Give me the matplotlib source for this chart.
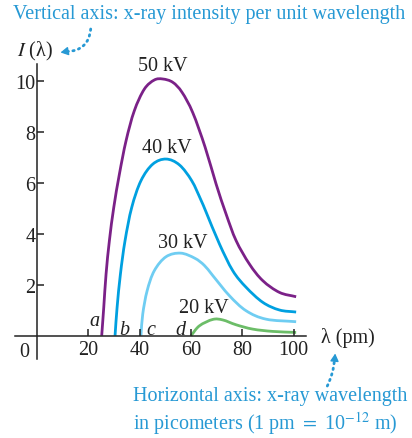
import matplotlib
matplotlib.use("Agg")
import matplotlib.pyplot as plt
from matplotlib.path import Path
from matplotlib.patches import PathPatch

plt.rcParams['font.family'] = ['Liberation Serif', 'DejaVu Serif']
plt.rcParams['mathtext.fontset'] = 'stix'

# ---- data ----
lam_50 = [25.2, 26.0, 26.9, 28.2, 29.9, 32.1, 34.7, 37.9, 41.8, 45.7, 49.0, 52.9, 56.5,
          60.7, 65.5, 69.8, 73.7, 77.6, 82.8, 88.0, 94.5, 101.0]
I_50 = [0.0, 1.11, 2.42, 3.73, 5.03, 6.34, 7.65, 8.82, 9.67, 10.03, 10.07, 9.94, 9.55,
        8.75, 7.4, 5.95, 4.77, 3.73, 2.81, 2.16, 1.70, 1.53]

lam_40 = [30.4, 31.2, 32.5, 34.3, 36.9, 40.5, 45.1, 50.3, 55.5, 60.3, 63.9, 65.9, 71.1,
          76.3, 81.5, 88.0, 94.5, 101.0]
I_40 = [0.0, 1.11, 2.42, 3.73, 5.03, 6.08, 6.73, 6.93, 6.70, 6.08, 5.32, 4.85, 3.6,
        2.55, 1.90, 1.31, 1.01, 0.93]

lam_30 = [40.5, 41.2, 42.9, 45.7, 50.3, 56.0, 61.5, 65.2, 68.5, 75.0, 81.5, 89.3, 101.0]
I_30 = [0.0, 0.85, 1.76, 2.55, 3.10, 3.24, 3.04, 2.76, 2.36, 1.57, 0.98, 0.65, 0.55]

lam_20 = [60.0, 63.3, 68.5, 72.4, 77.6, 84.1, 91.9, 101.0]
I_20 = [0.0, 0.39, 0.64, 0.62, 0.43, 0.26, 0.17, 0.13]

voltages = ["50 kV", "40 kV", "30 kV", "20 kV"]
x_ticks = [20, 40, 60, 80, 100]
y_ticks = [2, 4, 6, 8, 10]
threshold_letters = ["a", "b", "c", "d"]

colors = ["#7b2188", "#00a0e0", "#6fcdf2", "#6cbd68"]
note_color = "#2799d4"
ink = "#222222"
FS = 14.5


def smooth_path(xs, ys):
    """Cubic Bezier path passing through the read points (Catmull-Rom tangents)."""
    n = len(xs)
    verts = [(xs[0], ys[0])]
    codes = [Path.MOVETO]
    for i in range(n - 1):
        i0 = max(i - 1, 0)
        i3 = min(i + 2, n - 1)
        k1 = 6.0 if i0 != i else 3.0
        k2 = 6.0 if i3 != i + 1 else 3.0
        c1 = (xs[i] + (xs[i + 1] - xs[i0]) / k1, ys[i] + (ys[i + 1] - ys[i0]) / k1)
        c2 = (xs[i + 1] - (xs[i3] - xs[i]) / k2, ys[i + 1] - (ys[i3] - ys[i]) / k2)
        verts += [c1, c2, (xs[i + 1], ys[i + 1])]
        codes += [Path.CURVE4] * 3
    return Path(verts, codes)


W, H = 412, 439
fig = plt.figure(figsize=(W / 100, H / 100), dpi=100)
ax = fig.add_axes([15 / W, (H - 359.7) / H, 291.4 / W, 294.5 / H])
ax.set_xlim(-8.6, 105)
ax.set_ylim(-0.9, 10.65)

for s in ['top', 'right']:
    ax.spines[s].set_visible(False)
ax.spines['left'].set_position(('data', 0))
ax.spines['bottom'].set_position(('data', 0))
for s in ['left', 'bottom']:
    ax.spines[s].set_linewidth(1.1)
    ax.spines[s].set_color(ink)

ax.set_xticks(x_ticks)
ax.set_yticks(y_ticks)
ax.tick_params(axis='both', direction='in', length=5, width=1.1, color=ink,
               labelsize=FS, labelcolor=ink)
ax.tick_params(axis='x', pad=3)
ax.tick_params(axis='y', pad=1)

series = [(lam_50, I_50), (lam_40, I_40), (lam_30, I_30), (lam_20, I_20)]
for (lx, ly), c in zip(series, colors):
    ax.add_patch(PathPatch(smooth_path(lx, ly), facecolor='none', edgecolor=c, lw=2.0,
                           capstyle='butt', joinstyle='round'))

label_pos = [(48.9, 10.6), (50.5, 7.4), (56.8, 3.66), (65.2, 1.12)]
for t, (x, y) in zip(voltages, label_pos):
    ax.text(x, y, t, ha='center', va='center', fontsize=FS, color=ink)

letter_pos = [(22.2, 0.58), (34.2, 0.26), (44.2, 0.26), (56.0, 0.26)]
for t, (x, y) in zip(threshold_letters, letter_pos):
    ax.text(x, y, t, ha='center', va='center', fontsize=FS, style='italic', color=ink)

ax.text(-4.9, -0.62, "0", ha='center', va='center', fontsize=FS, color=ink)
ax.text(110.6, -0.05, "λ (pm)", ha='left', va='center', fontsize=FS, color=ink, clip_on=False)
ax.text(-0.9, 11.17, "$I$ (λ)", ha='center', va='center', fontsize=FS, color=ink, clip_on=False)

# annotation texts (figure pixel coords)
fig.text(13 / W, 1 - 14 / H, "Vertical axis: x-ray intensity per unit wavelength",
         ha='left', va='center', fontsize=FS, color=note_color)
fig.text(133 / W, 1 - 396.7 / H, "Horizontal axis: x-ray wavelength",
         ha='left', va='center', fontsize=FS, color=note_color)
fig.text(133 / W, 1 - 423.3 / H, "in picometers (1 pm $=$ 10$^{-12}$ m)",
         ha='left', va='center', fontsize=FS, color=note_color)

# dotted arrows
dot_style = dict(arrowstyle='-', color=note_color, lw=2.0, linestyle=(0, (0.5, 1.6)),
                 capstyle='round', shrinkA=0, shrinkB=0)
ax.annotate("", xy=(66, H - 52.5), xytext=(90.7, H - 30), xycoords='figure pixels',
            textcoords='figure pixels',
            arrowprops=dict(connectionstyle='arc3,rad=-0.45', **dot_style))
ax.annotate("", xy=(60.5, H - 53.5), xytext=(67, H - 52.3), xycoords='figure pixels',
            textcoords='figure pixels',
            arrowprops=dict(arrowstyle='-|>,head_length=0.45,head_width=0.25', color=note_color,
                            lw=1.0, shrinkA=0, shrinkB=0))
ax.annotate("", xy=(334.5, H - 360), xytext=(327.3, H - 387), xycoords='figure pixels',
            textcoords='figure pixels',
            arrowprops=dict(connectionstyle='arc3,rad=0.1', **dot_style))
ax.annotate("", xy=(335.2, H - 354.5), xytext=(334.6, H - 361), xycoords='figure pixels',
            textcoords='figure pixels',
            arrowprops=dict(arrowstyle='-|>,head_length=0.45,head_width=0.25', color=note_color,
                            lw=1.0, shrinkA=0, shrinkB=0))

fig.savefig("out.png", dpi=100)
